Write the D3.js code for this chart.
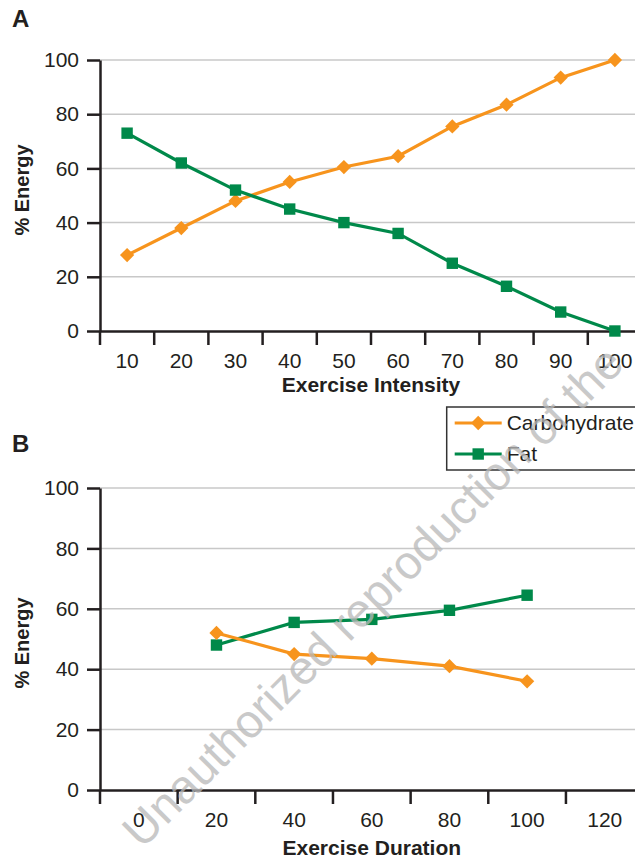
<!DOCTYPE html>
<html>
<head>
<meta charset="utf-8">
<script src="https://cdn.jsdelivr.net/npm/d3@7"></script>
<style>
  body { margin: 0; background: #fff; }
  svg { display: block; font-family: "Liberation Sans", Arial, sans-serif; }
</style>
</head>
<body>
<div id="svg-container"></div>
<script>
const width = 635;
const height = 858;

const CARB_COLOR = "#f7941d";
const FAT_COLOR = "#00894a";
const AXIS_COLOR = "#231f20";
const GRID_COLOR = "#c8c8c8";

// Panel A: % energy vs exercise intensity
const intensityLabels = [10, 20, 30, 40, 50, 60, 70, 80, 90, 100];
const intensityCarb = [28, 38, 48, 55, 60.5, 64.5, 75.5, 83.5, 93.5, 100];
const intensityFat = [73, 62, 52, 45, 40, 36, 25, 16.5, 7, 0];

// Panel B: % energy vs exercise duration
const durationLabels = [0, 20, 40, 60, 80, 100, 120];
const durationCarb = [null, 52, 45, 43.5, 41, 36, null];
const durationFat = [null, 48, 55.5, 56.5, 59.5, 64.5, null];

const yTicks = [0, 20, 40, 60, 80, 100];
const seriesNames = ["Carbohydrate", "Fat"];

let svg = d3.select("#svg-container")
  .append("svg")
  .attr("width", width)
  .attr("height", height)
  .attr("viewBox", [0, 0, width, height]);

/**
 * Draw one panel: grid, axes, two lines with markers
 */
function buildPanel(opts) {
  let x = d3.scaleBand()
    .domain(opts.labels)
    .range([opts.left, opts.right])
    .padding(0);
  let y = d3.scaleLinear()
    .domain([0, 100])
    .range([opts.bottom, opts.top]);

  let g = svg.append("g");

  // horizontal gridlines
  g.append("g")
    .selectAll("line")
    .data(yTicks.filter(d => d > 0))
    .enter()
    .append("line")
    .attr("x1", opts.left)
    .attr("x2", opts.right)
    .attr("y1", d => y(d))
    .attr("y2", d => y(d))
    .attr("stroke", GRID_COLOR)
    .attr("stroke-width", 1.5);

  // Y axis
  let yAxis = g.append("g")
    .attr("transform", "translate(" + opts.left + ",0)")
    .call(d3.axisLeft(y).tickValues(yTicks).tickSize(13).tickPadding(8).tickSizeOuter(0));

  // X axis: ticks sit on the band boundaries, labels in the middle
  let xAxis = g.append("g")
    .attr("transform", "translate(0," + opts.bottom + ")")
    .call(d3.axisBottom(x).tickSize(0).tickPadding(22).tickSizeOuter(0));
  xAxis.selectAll(".boundary")
    .data(d3.range(opts.labels.length + 1))
    .enter()
    .append("line")
    .attr("class", "boundary")
    .attr("x1", i => opts.left + i * x.step())
    .attr("x2", i => opts.left + i * x.step())
    .attr("y1", 0)
    .attr("y2", 14)
    .attr("stroke", AXIS_COLOR)
    .attr("stroke-width", 2.5);

  [xAxis, yAxis].forEach(ax => {
    ax.select(".domain").attr("stroke", AXIS_COLOR).attr("stroke-width", 2.5);
    ax.selectAll(".tick line").attr("stroke", AXIS_COLOR).attr("stroke-width", 2.5);
    ax.selectAll("text")
      .attr("fill", AXIS_COLOR)
      .style("font-size", "21px")
      .style("font-family", "'Liberation Sans', Arial, sans-serif");
  });

  let cx = (d, i) => x(opts.labels[i]) + x.bandwidth() / 2;
  let line = d3.line()
    .defined(d => d != null)
    .x(cx)
    .y(d => y(d));

  let series = [
    { values: opts.carb, color: CARB_COLOR, shape: d3.symbolDiamond2, size: 130 },
    { values: opts.fat, color: FAT_COLOR, shape: d3.symbolSquare, size: 130 }
  ];
  if (opts.fatFirst) series.reverse();

  series.forEach(s => {
    g.append("path")
      .datum(s.values)
      .attr("d", line)
      .attr("fill", "none")
      .attr("stroke", s.color)
      .attr("stroke-width", 3.2);
    g.append("g")
      .selectAll("path")
      .data(s.values.map((v, i) => ({ v: v, i: i })).filter(d => d.v != null))
      .enter()
      .append("path")
      .attr("transform", d => "translate(" + cx(d.v, d.i) + "," + y(d.v) + ")")
      .attr("d", d3.symbol(s.shape, s.size))
      .attr("fill", s.color);
  });

  // titles
  g.append("text")
    .attr("x", 12)
    .attr("y", opts.letterY)
    .attr("font-size", 24)
    .attr("font-weight", "bold")
    .attr("fill", AXIS_COLOR)
    .text(opts.letter);
  g.append("text")
    .attr("x", (opts.left + opts.right) / 2)
    .attr("y", opts.xTitleY)
    .attr("text-anchor", "middle")
    .attr("font-size", 21)
    .attr("font-weight", "bold")
    .attr("fill", AXIS_COLOR)
    .text(opts.xTitle);
  g.append("text")
    .attr("transform", "translate(29," + opts.yTitleY + ") rotate(-90)")
    .attr("text-anchor", "middle")
    .attr("font-size", 20)
    .attr("font-weight", "bold")
    .attr("fill", AXIS_COLOR)
    .text("% Energy");
}

buildPanel({
  labels: intensityLabels, carb: intensityCarb, fat: intensityFat,
  left: 100, right: 642, top: 60, bottom: 331,
  letter: "A", letterY: 27, xTitle: "Exercise Intensity", xTitleY: 392, yTitleY: 190
});

buildPanel({
  labels: durationLabels, carb: durationCarb, fat: durationFat, fatFirst: true,
  left: 100, right: 643.6, top: 488, bottom: 790,
  letter: "B", letterY: 452, xTitle: "Exercise Duration", xTitleY: 855, yTitleY: 643
});

// Legend
let legend = svg.append("g").attr("transform", "translate(446.7,407)");
legend.append("rect")
  .attr("width", 220)
  .attr("height", 63)
  .attr("fill", "#fff")
  .attr("stroke", "#333")
  .attr("stroke-width", 1.5);
let legendItems = legend.selectAll(".item")
  .data(seriesNames)
  .enter()
  .append("g")
  .attr("class", "item")
  .attr("transform", (d, i) => "translate(0," + (16 + i * 31) + ")");
legendItems.append("line")
  .attr("x1", 8).attr("x2", 55)
  .attr("stroke", (d, i) => i === 0 ? CARB_COLOR : FAT_COLOR)
  .attr("stroke-width", 3.2);
legendItems.append("path")
  .attr("transform", "translate(31.5,0)")
  .attr("d", (d, i) => d3.symbol(i === 0 ? d3.symbolDiamond2 : d3.symbolSquare, 130)())
  .attr("fill", (d, i) => i === 0 ? CARB_COLOR : FAT_COLOR);
legendItems.append("text")
  .attr("x", 60)
  .attr("dy", "0.35em")
  .attr("font-size", 21)
  .attr("fill", AXIS_COLOR)
  .text(d => d);

// Watermark across the lower panel
svg.append("text")
  .attr("transform", "translate(142,850) rotate(-45)")
  .attr("font-size", 47)
  .attr("fill", "#b8b8b8")
  .attr("opacity", 0.75)
  .text("Unauthorized reproduction of the");
</script>
</body>
</html>
